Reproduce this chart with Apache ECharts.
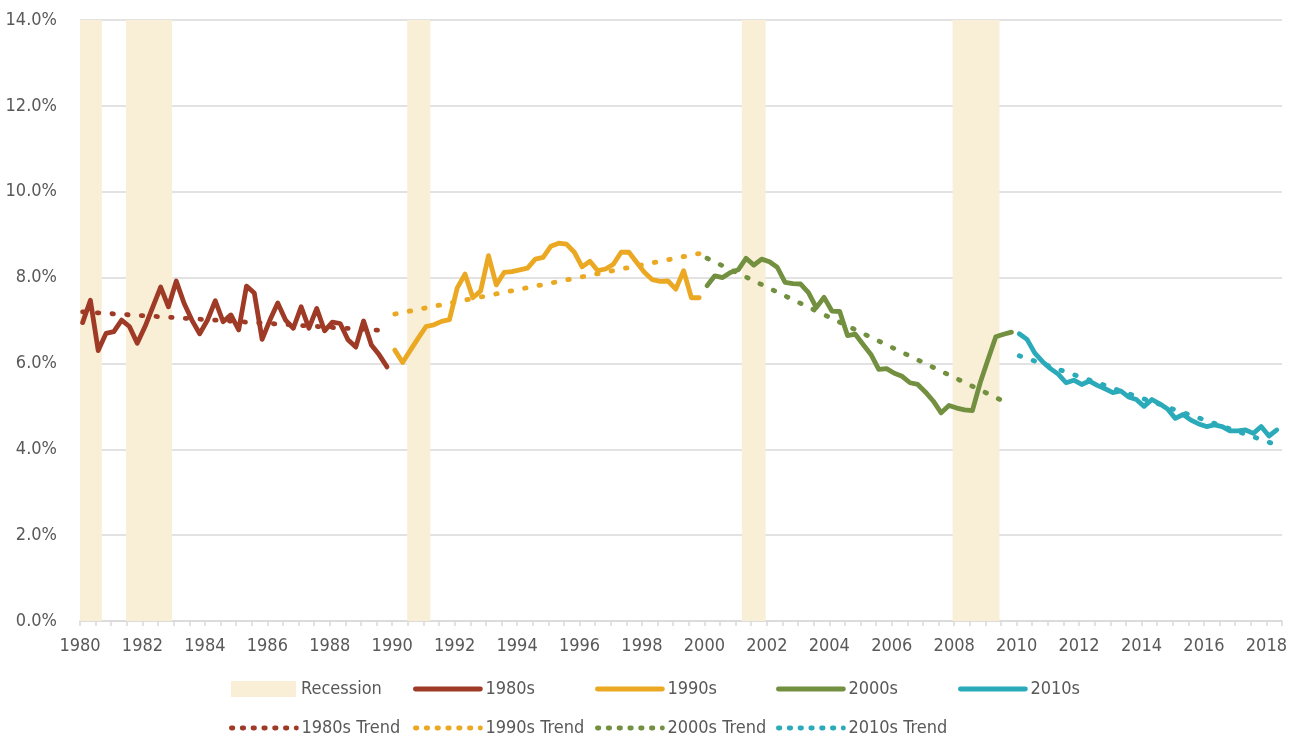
<!DOCTYPE html>
<html><head><meta charset="utf-8">
<script src="https://cdn.jsdelivr.net/npm/echarts@6/dist/echarts.min.js"></script>
<style>html,body{margin:0;padding:0;background:#fff}#c{width:1299px;height:740px}</style>
</head><body><div id="c"></div>
<script>
// Quarterly values (%), one array per decade
const start1980 = 1980, start1990 = 1990, start2000 = 2000, start2010 = 2010;
const s1980 = [6.95,7.47,6.30,6.70,6.74,7.01,6.86,6.47,6.86,7.32,7.78,7.32,7.92,7.40,7.01,6.69,7.01,7.46,6.97,7.13,6.78,7.80,7.64,6.56,7.01,7.41,7.01,6.82,7.32,6.82,7.28,6.76,6.96,6.93,6.55,6.38,6.99,6.43,6.20,5.92];
const s1990 = [6.31,6.02,6.31,6.59,6.86,6.90,6.98,7.02,7.76,8.08,7.53,7.69,8.51,7.83,8.12,8.14,8.18,8.22,8.43,8.47,8.73,8.80,8.78,8.59,8.25,8.38,8.16,8.20,8.31,8.59,8.59,8.35,8.12,7.95,7.91,7.92,7.73,8.16,7.53,7.53];
const s2000 = [7.81,8.04,8.00,8.12,8.18,8.45,8.29,8.43,8.37,8.24,7.89,7.86,7.85,7.65,7.30,7.54,7.22,7.21,6.65,6.68,6.44,6.21,5.86,5.88,5.77,5.70,5.55,5.51,5.33,5.12,4.85,5.02,4.96,4.92,4.90,5.55,6.09,6.62,6.68,6.73];
const s2010 = [6.69,6.56,6.24,6.04,5.88,5.75,5.55,5.61,5.51,5.59,5.49,5.41,5.32,5.36,5.22,5.16,5.00,5.16,5.06,4.94,4.72,4.81,4.68,4.59,4.53,4.57,4.53,4.43,4.43,4.45,4.37,4.53,4.31,4.45];
// Linear trend values at first and last quarter of each decade
const trend1980 = [7.20, 6.76];
const trend1990 = [7.15, 8.56];
const trend2000 = [8.45, 5.03];
const trend2010 = [6.18, 4.10];
// Recession periods (decimal years)
const recStart = [1980.0, 1981.47, 1990.48, 2001.2, 2007.95];
const recEnd   = [1980.7, 1982.95, 1991.22, 2001.96, 2009.45];
const yTicks = [0,2,4,6,8,10,12,14];

const COL = {r:'#9E3A26', o:'#EBA823', g:'#72903F', t:'#2BAAB9', rec:'#F9EED6'};
const FONT = '"Liberation Sans Narrow","DejaVu Sans Condensed","Roboto",sans-serif';
const TXT = '#595959';
const FS = 18;

function qx(startYear, i){ return startYear + (i*3 + 1)/12; }
function toPts(startYear, arr){ return arr.map((v,i)=>[qx(startYear,i), v]); }
function trendPts(startYear, arr, tr){ return [[qx(startYear,0), tr[0]], [qx(startYear,arr.length-1), tr[1]]]; }

const solid = (name, start, arr, c) => ({
  name, type:'line', data: toPts(start, arr), symbol:'none', z:3,
  lineStyle:{color:c, width:4.8, cap:'round', join:'round'}, itemStyle:{color:c}
});
const dotted = (name, start, arr, tr, c) => ({
  name, type:'line', data: trendPts(start, arr, tr), symbol:'none', z:4,
  lineStyle:{color:c, width:4.8, type:[1.5,13.2], cap:'round'}, itemStyle:{color:c}
});

const series = [
  { name:'Recession', type:'line', data:[], symbol:'none', z:1,
    itemStyle:{color:COL.rec}, lineStyle:{color:COL.rec},
    markArea:{ silent:true, itemStyle:{color:COL.rec, opacity:1},
      data: recStart.map((s,i)=>[{xAxis:s, yAxis:0},{xAxis:recEnd[i], yAxis:14}]) } },
  solid('1980s', start1980, s1980, COL.r),
  solid('1990s', start1990, s1990, COL.o),
  solid('2000s', start2000, s2000, COL.g),
  solid('2010s', start2010, s2010, COL.t),
  dotted('1980s Trend', start1980, s1980, trend1980, COL.r),
  dotted('1990s Trend', start1990, s1990, trend1990, COL.o),
  dotted('2000s Trend', start2000, s2000, trend2000, COL.g),
  dotted('2010s Trend', start2010, s2010, trend2010, COL.t)
];

const legendPos = [
  ['Recession', 231, 680], ['1980s', 413, 680], ['1990s', 595, 680], ['2000s', 776, 680], ['2010s', 958, 680],
  ['1980s Trend', 229, 719], ['1990s Trend', 413, 719], ['2000s Trend', 595, 719], ['2010s Trend', 776, 719]
];
const legends = legendPos.map(([n,x,y]) => {
  const l = { data:[ n==='Recession' ? {name:n, icon:'rect', itemStyle:{color:COL.rec}} : {name:n} ],
    left:x, top:y, padding:0, itemWidth:65, itemHeight:16, itemGap:0,
    selectedMode:false, textStyle:{fontFamily:FONT, fontSize:FS, color:TXT} };
  if (n !== 'Recession') {
    l.itemStyle = {color:'rgba(0,0,0,0)', borderWidth:0, borderColor:'rgba(0,0,0,0)'};
    l.lineStyle = {width:4.8, cap:'round'};
  }
  if (n.indexOf('Trend')>=0) l.lineStyle = {type:[1.5,9.3], width:4.8, cap:'round'};
  return l;
});

const chart = echarts.init(document.getElementById('c'), null, {renderer:'canvas'});
chart.setOption({
  animation:false,
  backgroundColor:'#fff',
  grid:{left:80, right:17, top:20, bottom:119, containLabel:false},
  legend: legends,
  xAxis:{ type:'value', min:1980, max:2018.5, interval:0.5,
    axisLine:{show:true, lineStyle:{color:'#d9d9d9', width:1.5}},
    axisTick:{show:true, length:5, lineStyle:{color:'#d9d9d9', width:1.5}},
    splitLine:{show:false},
    axisLabel:{ margin:16, fontFamily:FONT, fontSize:FS, color:TXT, showMaxLabel:true,
      formatter:v=>{ const r=Math.round(v); return (Math.abs(v-r)<1e-6 && r%2===0) ? String(r) : ''; } } },
  yAxis:{ type:'value', min:yTicks[0], max:yTicks[yTicks.length-1], interval:yTicks[1]-yTicks[0],
    axisLine:{show:false}, axisTick:{show:false},
    splitLine:{lineStyle:{color:'#d9d9d9', width:1.5}},
    axisLabel:{ margin:23, fontFamily:FONT, fontSize:FS, color:TXT, formatter:v=>v.toFixed(1)+'%' } },
  series
});
</script></body></html>
